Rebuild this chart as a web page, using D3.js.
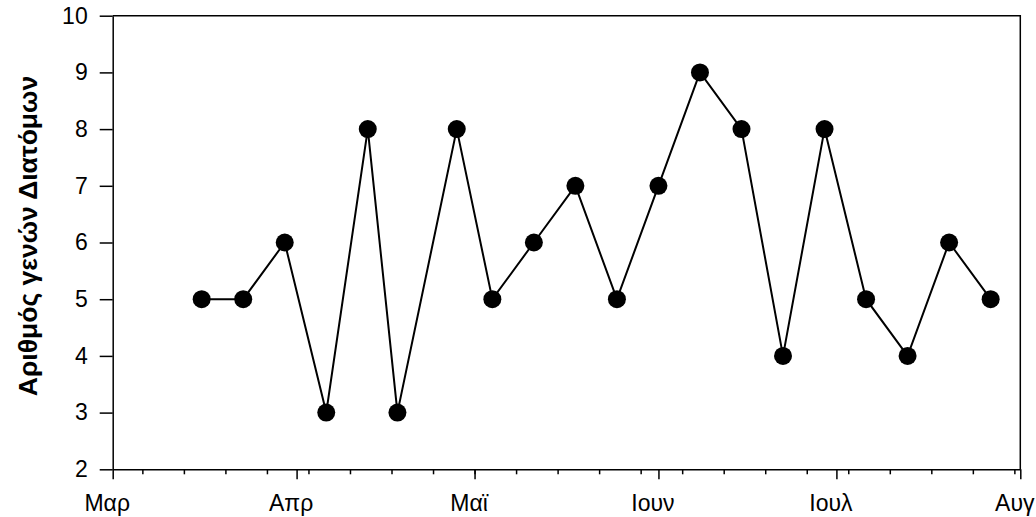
<!DOCTYPE html>
<html>
<head>
<meta charset="utf-8">
<script src="https://cdn.jsdelivr.net/npm/d3@7"></script>
<style>
  body { margin: 0; background: #fff; }
  text { font-family: "Liberation Sans", Arial, sans-serif; }
</style>
</head>
<body>
<div id="chart"></div>
<script>
// sampling dates (weekly-ish) and number of diatom genera
var dates = ["2007-03-16","2007-03-23","2007-03-30","2007-04-06","2007-04-13","2007-04-18",
             "2007-04-28","2007-05-04","2007-05-11","2007-05-18","2007-05-25","2007-06-01",
             "2007-06-08","2007-06-15","2007-06-22","2007-06-29","2007-07-06","2007-07-13",
             "2007-07-20","2007-07-27"];
var genera = [5, 5, 6, 3, 8, 3, 8, 5, 6, 7, 5, 7, 9, 8, 4, 8, 5, 4, 6, 5];
var monthLabels = ["Μαρ", "Απρ", "Μαϊ", "Ιουν", "Ιουλ", "Αυγ"];
var yTicks = [2, 3, 4, 5, 6, 7, 8, 9, 10];
var yTitle = "Αριθμός γενών Διατόμων";

var width = 1036, height = 517;
var margin = { left: 112.7, right: 15.7, top: 15.7, bottom: 47.7 };

var parse = d3.utcParse("%Y-%m-%d");
var data = dates.map(function(d, i) { return { date: parse(d), value: genera[i] }; });

var x0 = Date.UTC(2007, 2, 1), x1 = Date.UTC(2007, 7, 1);
var x = d3.scaleUtc()
    .domain([new Date(x0), new Date(x1)])
    .range([margin.left, width - margin.right]);
var y = d3.scaleLinear()
    .domain([2, 10])
    .range([height - margin.bottom, margin.top]);

var svg = d3.select("#chart").append("svg")
    .attr("width", width)
    .attr("height", height);

// frame (top and right)
svg.append("path")
    .attr("d", "M" + x.range()[0] + "," + y(10) + "H" + x.range()[1] + "V" + y(2))
    .attr("fill", "none")
    .attr("stroke", "#000")
    .attr("stroke-width", 1.5);

// minor weekly ticks
var minor = d3.utcDay.range(new Date(Date.UTC(2007, 2, 6)), new Date(x1), 7);
svg.append("g")
    .attr("transform", "translate(0," + y(2) + ")")
    .call(d3.axisBottom(x).tickValues(minor).tickSize(5).tickFormat(""))
    .call(function(g) { g.select(".domain").remove(); })
    .selectAll("line").attr("stroke-width", 1.5);

// x axis, month ticks
var months = d3.utcMonth.range(new Date(x0), new Date(x1 + 1));
var xAxis = svg.append("g")
    .attr("transform", "translate(0," + y(2) + ")")
    .call(d3.axisBottom(x).tickValues(months).tickSize(10).tickSizeOuter(0)
        .tickFormat(function(d, i) { return monthLabels[i]; }));
xAxis.select(".domain").attr("stroke-width", 1.5);
xAxis.selectAll("line").attr("stroke-width", 1.5);
xAxis.selectAll("text")
    .attr("font-size", "23px")
    .attr("font-family", "Liberation Sans, Arial, sans-serif")
    .attr("fill", "#000")
    .attr("x", -6)
    .attr("y", 25);

// y axis
var yAxis = svg.append("g")
    .attr("transform", "translate(" + margin.left + ",0)")
    .call(d3.axisLeft(y).tickValues(yTicks).tickSize(13).tickSizeOuter(0).tickPadding(12));
yAxis.select(".domain").attr("stroke-width", 1.5);
yAxis.selectAll("line").attr("stroke-width", 1.5);
yAxis.selectAll("text")
    .attr("font-size", "23px")
    .attr("font-family", "Liberation Sans, Arial, sans-serif")
    .attr("fill", "#000");

// y title
svg.append("text")
    .attr("transform", "translate(28,236) rotate(-90)")
    .attr("text-anchor", "middle")
    .attr("dy", "0.35em")
    .attr("font-size", "26.5px")
    .attr("font-weight", "bold")
    .text(yTitle);

// line and markers
var line = d3.line()
    .x(function(d) { return x(d.date); })
    .y(function(d) { return y(d.value); });

svg.append("path")
    .datum(data)
    .attr("d", line)
    .attr("fill", "none")
    .attr("stroke", "#000")
    .attr("stroke-width", 2);

svg.selectAll("circle.pt")
    .data(data)
    .enter().append("circle")
    .attr("class", "pt")
    .attr("cx", function(d) { return x(d.date); })
    .attr("cy", function(d) { return y(d.value); })
    .attr("r", 9)
    .attr("fill", "#000");
</script>
</body>
</html>
